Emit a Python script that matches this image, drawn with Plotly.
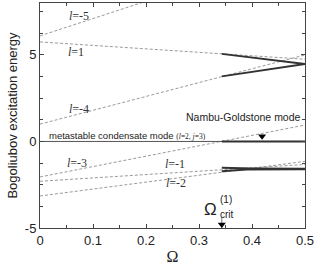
import plotly.graph_objects as go

# Dashed single-particle branches: energy at Omega = 0 and Omega = 0.5
omega_ends = [0.0, 0.5]
branch_l = [-5, 1, -4, -3, -1, -2]
branch_e0 = [6.1, 5.75, 1.0, -2.05, -2.3, -3.15]
branch_e05 = [11.1, 4.75, 5.0, 0.95, -1.33, -1.15]

# Solid (Bogoliubov) branches beyond Omega_crit
solid_upper_x = [0.343, 0.42, 0.5]
solid_upper_y = [5.06, 4.78, 4.47]
solid_lower_x = [0.343, 0.42, 0.5]
solid_lower_y = [3.76, 4.12, 4.47]
solid_neg_a_x = [0.343, 0.4, 0.5]
solid_neg_a_y = [-1.52, -1.56, -1.58]
solid_neg_b_x = [0.343, 0.39, 0.5]
solid_neg_b_y = [-1.72, -1.62, -1.6]
zero_x = [0.0, 0.5]
zero_y = [0.0, 0.0]
ng_x = [0.343, 0.5]
ng_y = [0.0, 0.0]

omega_crit = 0.343
ng_marker = 0.419

label_text = ["<i>l</i>=-5", "<i>l</i>=1", "<i>l</i>=-4", "<i>l</i>=-3", "<i>l</i>=-1", "<i>l</i>=-2"]
label_x = [0.074, 0.068, 0.074, 0.07, 0.255, 0.257]
label_y = [7.25, 5.17, 1.87, -1.25, -1.3, -2.4]

x_ticks = [0, 0.1, 0.2, 0.3, 0.4, 0.5]
y_ticks = [-5, 0, 5]

fig = go.Figure()
dash_col = "#9a9a9a"
for e0, e1 in zip(branch_e0, branch_e05):
    fig.add_trace(go.Scatter(x=omega_ends, y=[e0, e1], mode="lines",
                             line=dict(color=dash_col, width=1, dash="3px,2px"),
                             showlegend=False, hoverinfo="skip"))

fig.add_trace(go.Scatter(x=zero_x, y=zero_y, mode="lines",
                         line=dict(color="#555555", width=1), showlegend=False))
solid_col = "#333333"
for xs, ys in [(solid_upper_x, solid_upper_y), (solid_lower_x, solid_lower_y),
               (solid_neg_a_x, solid_neg_a_y), (solid_neg_b_x, solid_neg_b_y),
               (ng_x, ng_y)]:
    fig.add_trace(go.Scatter(x=xs, y=ys, mode="lines",
                             line=dict(color=solid_col, width=2),
                             showlegend=False, hoverinfo="skip"))

# markers (arrows)
fig.add_trace(go.Scatter(x=[ng_marker], y=[0.3], mode="markers",
                         marker=dict(symbol="triangle-down", size=7, color="black"),
                         showlegend=False))
fig.add_trace(go.Scatter(x=[omega_crit, omega_crit], y=[-4.35, -5], mode="lines",
                         line=dict(color="#555555", width=0.8), showlegend=False))
fig.add_trace(go.Scatter(x=[omega_crit], y=[-4.8], mode="markers",
                         marker=dict(symbol="triangle-down", size=7, color="black"),
                         showlegend=False))

ann = []
for t, x, y in zip(label_text, label_x, label_y):
    ann.append(dict(x=x, y=y, xref="x", yref="y", text=t, showarrow=False,
                    font=dict(family="Liberation Serif", size=12, color="#333333")))
ann.append(dict(x=0.014, y=0.32, xref="x", yref="y", xanchor="left",
                text="metastable condensate mode <span style='font-size:7.5px;font-family:Liberation Serif'>(<i>l</i>=2, <i>j</i>=3)</span>",
                showarrow=False, font=dict(family="Liberation Sans", size=9.5, color="#222222")))
ann.append(dict(x=0.497, y=1.42, xref="x", yref="y", xanchor="right",
                text="Nambu-Goldstone mode", showarrow=False,
                font=dict(family="Liberation Sans", size=10.5, color="#222222")))
ann.append(dict(x=0.322, y=-3.95, xref="x", yref="y", text="Ω", showarrow=False,
                font=dict(family="Liberation Sans", size=17, color="#222222")))
ann.append(dict(x=0.336, y=-3.35, xref="x", yref="y", xanchor="left", text="(1)", showarrow=False,
                font=dict(family="Liberation Sans", size=10, color="#222222")))
ann.append(dict(x=0.336, y=-4.2, xref="x", yref="y", xanchor="left", text="crit", showarrow=False,
                font=dict(family="Liberation Sans", size=10, color="#222222")))

axis_common = dict(showline=True, linecolor="#444444", linewidth=1, mirror="ticks",
                   ticks="inside", ticklen=4, tickcolor="#444444", showgrid=False,
                   zeroline=False, tickfont=dict(family="Liberation Sans", size=13, color="#222222"))

fig.update_layout(
    width=318, height=265,
    margin=dict(l=40, r=13, t=3, b=37),
    paper_bgcolor="white", plot_bgcolor="white",
    annotations=ann,
    xaxis=dict(range=[0, 0.5], tickvals=x_ticks, ticktext=[str(v) for v in x_ticks],
               minor=dict(dtick=0.05, ticks="inside", ticklen=3, tickcolor="#444444"),
               title=dict(text="Ω", font=dict(family="Liberation Serif", size=16, color="#222222"), standoff=10),
               automargin=False, **axis_common),
    yaxis=dict(range=[-5, 8], tickvals=y_ticks, ticktext=["-5", "0", "5"],
               minor=dict(dtick=1.25, tick0=0, ticks="inside", ticklen=3, tickcolor="#444444"),
               title=dict(text="Bogoliubov excitation energy", font=dict(family="Liberation Sans", size=13, color="#222222"), standoff=4),
               automargin=False, **axis_common),
)
fig.write_html("out.html", config={"displayModeBar": False},
               post_script="document.body.style.margin='0';document.body.style.padding='0';")
